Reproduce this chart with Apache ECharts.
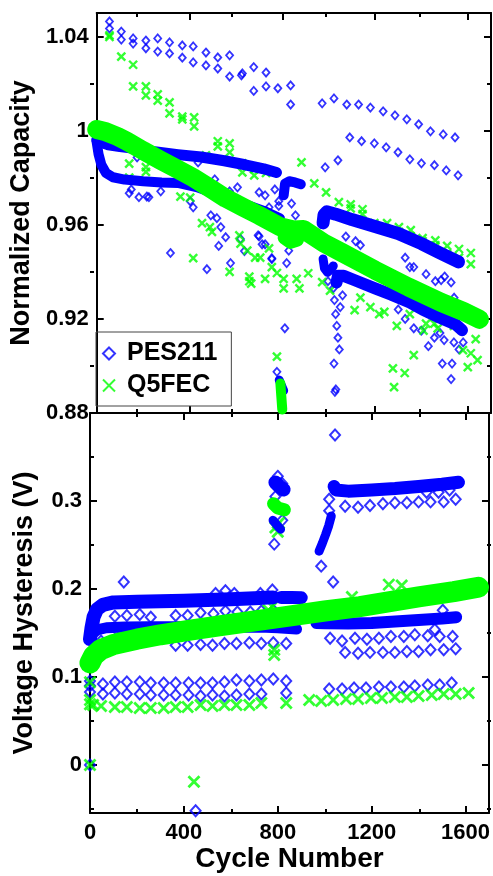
<!DOCTYPE html>
<html>
<head>
<meta charset="utf-8">
<script src="https://cdn.jsdelivr.net/npm/echarts@6/dist/echarts.min.js"></script>
<style>
  html, body { margin: 0; padding: 0; background: #fff; }
  #chart { width: 493px; height: 876px; }
</style>
</head>
<body>
<div id="chart"></div>
<script>
// ---- axis ticks ----
const cycleTicks = [0, 400, 800, 1200, 1600];
const cycleMinor = [200, 600, 1000, 1400];
const capTicks = [0.88, 0.92, 0.96, 1, 1.04];
const capMinor = [0.9, 0.94, 0.98, 1.02];
const hysTicks = [0, 0.1, 0.2, 0.3];
const hysMinor = [-0.05, 0.05, 0.15, 0.25, 0.35];

// ---- top panel: normalized capacity, [cycle, value] ----
// PES211 dense bands
const pesCapUpper = [[0,0.996],[15,0.9952],[50,0.994],[100,0.9932],[160,0.9925],[250,0.991],[350,0.9898],[450,0.9888],[550,0.9872],[640,0.9855],[720,0.9838],[775,0.9822]];
const pesCapLower = [[0,0.995],[8,0.99],[20,0.9855],[40,0.982],[70,0.9802],[120,0.9792],[200,0.9785],[280,0.978],[350,0.9778],[430,0.976],[510,0.9733],[590,0.9705],[660,0.968],[730,0.9655],[790,0.9628]];
const pesCapBump = [[806,0.9725],[812,0.9775],[830,0.9785],[855,0.978],[880,0.9772]];
const pesCapMid = [[815,0.9585],[850,0.9565],[895,0.9555]];
const pesCapDip = [[787,0.894],[797,0.8915],[806,0.8895]];
const pesCapBlob = [[976,0.9455],[982,0.9415],[995,0.9398],[1012,0.9412],[1020,0.9425]];
const pesCapUpper2 = [[976,0.9608],[980,0.9642],[992,0.9655],[1030,0.9645],[1100,0.9622],[1200,0.9593],[1300,0.9563],[1400,0.952],[1480,0.948],[1560,0.9442]];
const pesCapLower2 = [[1034,0.9355],[1040,0.9383],[1065,0.9383],[1110,0.9365],[1200,0.933],[1270,0.9303],[1350,0.927],[1405,0.924],[1480,0.9205],[1550,0.9175],[1575,0.9152]];
// PES211 single points
const pesCapPoints = [
  [55,1.0464],[55,1.0434],[106,1.0421],[157,1.0392],[212,1.0383],[263,1.0392],[314,1.0375],[369,1.0362],[416,1.0358],[471,1.0332],[522,1.0311],[573,1.032],[628,1.0243],[677,1.027],[730,1.0247],
  [106,1.0387],[157,1.037],[212,1.035],[263,1.0336],[314,1.0328],[369,1.031],[416,1.029],[471,1.0277],[522,1.0264],[573,1.023],[624,1.0235],[677,1.0169],[730,1.0188],[781,1.018],[836,1.0192],[836,1.0111],
  [972,1.0116],[1023,1.0137],[1078,1.0111],[1129,1.0111],[1180,1.0098],[1235,1.0082],[1286,1.0065],[1337,1.0048],[1388,1.0027],[1439,0.9997],[1494,0.9984],[1545,0.9971],
  [985,0.9844],[1040,0.9874],[1091,0.9971],[1142,0.9955],[1197,0.9946],[1248,0.9929],[1299,0.9908],[1350,0.9878],[1400,0.9861],[1456,0.9853],[1507,0.9831],[1558,0.981],
  [140,0.9734],[182,0.9717],[216,0.972],[225,0.9717],[149,0.975],[276,0.9742],[318,0.948],[416,0.9674],[403,0.97],[492,0.964],[518,0.9628],[535,0.959],[509,0.9793],[556,0.9547],[526,0.951],[475,0.9411],[577,0.9437],[573,0.9742],[607,0.9759],[700,0.9738],[726,0.9725],[768,0.975],[785,0.97],[743,0.9674],[713,0.9517],[755,0.9458],[700,0.9551],[637,0.9488],[437,0.9865],[174,0.9886],[327,0.9882],[620,0.954],
  [696,0.9555],[726,0.9517],[755,0.9454],[785,0.968],[840,0.969],[857,0.964],[819,0.9437],[828,0.949],[989,0.9415],[997,0.936],[1074,0.955],[1116,0.953],[1137,0.9513],[1330,0.946],[1350,0.942],[1367,0.942],[1420,0.939],[1460,0.936],[1485,0.9365],[1500,0.938],[1528,0.9355],[1541,0.929],
  [1300,0.924],[1330,0.92],[1367,0.916],[1400,0.915],[1430,0.9084],[1456,0.912],[1480,0.914],[1490,0.901],[1498,0.911],[1528,0.8944],[1532,0.901],[1540,0.91],[1562,0.907],[1580,0.91],
  [1020,0.933],[1025,0.928],[1030,0.922],[1035,0.917],[1040,0.912],[1046,0.907],[1023,0.901],[1031,0.89],[1027,0.889],[1050,0.925],[1060,0.93],
  [811,0.916],[777,0.8975]
];
// Q5FEC dense bands
const q5CapBand = [[0,1.0005],[40,0.9995],[90,0.9975],[130,0.9955],[200,0.9915],[276,0.9874],[350,0.9835],[416,0.98],[490,0.9755],[556,0.9713],[630,0.9675],[700,0.964],[790,0.9592],[850,0.9578],[891,0.958],[980,0.9522],[1061,0.948],[1200,0.9407],[1345,0.9335],[1485,0.927],[1580,0.9232],[1650,0.9198]];
const q5CapBlob = [[808,0.9545],[835,0.9525],[865,0.9535]];
const q5CapDip = [[792,0.8925],[796,0.887],[800,0.8815]];
// Q5FEC single points
const q5CapPoints = [
  [55,1.0405],[55,1.0398],[106,1.0315],[157,1.028],[157,1.0188],[212,1.0188],[212,1.015],[263,1.0154],[263,1.0128],[314,1.012],[314,1.0073],[369,1.006],[369,1.0048],[420,1.0056],[420,1.0018],
  [522,0.9955],[522,0.9933],[573,0.9946],[573,0.9908],[471,0.9895],[628,0.9861],[628,0.9823],[679,0.9836],[679,0.981],[730,0.982],
  [140,0.986],[140,0.98],[212,0.9845],[212,0.9825],
  [883,0.9865],[938,0.9776],[989,0.9738],[1044,0.9696],[1095,0.9687],[1095,0.967],[1146,0.9666],[1146,0.9645],[1197,0.9607],[1252,0.9607],[1303,0.959],[1303,0.957],[1354,0.9577],[1354,0.9551],[1405,0.9543],[1405,0.953],[1460,0.9534],[1460,0.9513],[1511,0.951],[1511,0.9475],[1562,0.9497],[1562,0.946],[1613,0.948],[1613,0.9433],
  [454,0.9607],[488,0.959],[497,0.957],[361,0.972],[403,0.9715],[416,0.9458],[573,0.94],[615,0.9555],[620,0.952],[649,0.949],[683,0.946],[705,0.946],[658,0.938],[658,0.936],[726,0.937],[755,0.942],[777,0.9395],[806,0.937],[806,0.933],
  [666,0.935],[743,0.95],[862,0.937],[874,0.933],[912,0.9394],[972,0.9356],[1006,0.932],[1112,0.9237],[1137,0.929],[1180,0.925],[1218,0.922],[1240,0.923],[1294,0.917],[1277,0.899],[1282,0.891],[1328,0.897],[1350,0.922],[1367,0.9046],[1409,0.915],[1420,0.918],[1456,0.918],[1470,0.916],[1500,0.92],[1540,0.917],[1579,0.9067],[1613,0.9054],[1642,0.9025],[1600,0.8995],[1634,0.9114],[777,0.904]
];

// ---- bottom panel: voltage hysteresis (V), [cycle, value] ----
const pesHysUpper = [[0,0.143],[6,0.155],[15,0.168],[30,0.177],[55,0.182],[100,0.1848],[200,0.1855],[300,0.186],[400,0.1868],[500,0.1875],[600,0.1885],[700,0.1895],[780,0.1905]];
const pesHysUpperB = [[815,0.1905],[860,0.1905],[900,0.19]];
const pesHysLower = [[0,0.143],[10,0.149],[30,0.1535],[70,0.156],[150,0.1568],[250,0.157],[350,0.157],[450,0.157],[550,0.1565],[650,0.1565],[750,0.1565],[800,0.156],[880,0.1545]];
const pesHysBlobHi = [[790,0.321],[805,0.317],[825,0.313]];
const pesHysBlobLo = [[780,0.278],[795,0.273],[812,0.268]];
const pesHysRise = [[976,0.243],[990,0.252],[1004,0.262],[1017,0.272],[1028,0.283]];
const pesHysUpper2 = [[1040,0.3165],[1048,0.3125],[1100,0.3112],[1200,0.3125],[1300,0.3142],[1400,0.3165],[1500,0.319],[1570,0.3213]];
const pesHysLower2 = [[965,0.1615],[1000,0.161],[1100,0.1607],[1200,0.1615],[1300,0.163],[1400,0.1647],[1500,0.1665],[1560,0.168]];
const pesHysPoints = [
  [0,0],[0,0.083],[0,0.09],[0,0.0955],
  [55,0.0921],[106,0.0944],[157,0.0944],[212,0.0944],[259,0.0933],[314,0.0933],[365,0.0933],[420,0.0933],[471,0.0933],[522,0.0933],[573,0.0944],[624,0.0967],[679,0.0955],[730,0.0967],[781,0.0978],[836,0.0955],
  [55,0.0807],[106,0.0819],[157,0.0807],[212,0.0807],[259,0.0796],[314,0.0796],[365,0.0796],[420,0.0796],[471,0.0785],[522,0.0796],[573,0.0785],[624,0.0796],[679,0.0807],[730,0.0807],[836,0.0819],
  [106,0.169],[157,0.17],[212,0.171],[259,0.168],[365,0.17],[416,0.17],[471,0.173],[526,0.172],[577,0.175],[628,0.174],[683,0.174],[730,0.175],[781,0.176],[836,0.172],
  [47,0.141],[106,0.143],[157,0.142],[212,0.141],[365,0.136],[416,0.136],[471,0.137],[522,0.136],[573,0.138],[624,0.138],[679,0.139],[730,0.138],[781,0.139],[836,0.138],
  [144,0.208],[535,0.195],[577,0.198],[615,0.195],[726,0.195],[777,0.199],
  [785,0.251],[819,0.32],[819,0.278],[790,0.305],[800,0.328],
  [1044,0.375],[1019,0.302],[1019,0.289],[985,0.226],[1036,0.208],
  [1087,0.294],[1142,0.293],[1193,0.295],[1248,0.297],[1299,0.298],[1350,0.298],[1400,0.299],[1451,0.299],[1507,0.299],[1558,0.302],[1434,0.31],[1485,0.31],[1532,0.3125],
  [1023,0.144],[1074,0.141],[1129,0.144],[1180,0.143],[1231,0.144],[1282,0.146],[1337,0.146],[1384,0.148],[1439,0.147],[1490,0.146],[1545,0.146],[1469,0.154],[1503,0.176],
  [1087,0.128],[1142,0.127],[1193,0.128],[1248,0.128],[1299,0.128],[1350,0.129],[1400,0.129],[1451,0.131],[1507,0.131],[1558,0.132],
  [1019,0.0864],[1074,0.0864],[1125,0.0876],[1176,0.0876],[1231,0.0887],[1282,0.0887],[1337,0.0887],[1384,0.0899],[1439,0.091],[1490,0.091],[1541,0.0932],
  [450,-0.052]
];
const q5HysBand = [[0,0.116],[15,0.124],[45,0.131],[100,0.137],[200,0.143],[300,0.148],[420,0.153],[550,0.158],[680,0.163],[840,0.169],[1000,0.175],[1150,0.18],[1265,0.185],[1400,0.191],[1550,0.197],[1655,0.202]];
const q5HysBlob = [[782,0.297],[800,0.292],[828,0.29]];
const q5HysPoints = [
  [0,0],[0,0.094],[0,0.074],[0,0.069],
  [13,0.0683],[47,0.0671],[106,0.066],[157,0.066],[212,0.0648],[259,0.0648],[314,0.0648],[365,0.066],[416,0.066],[471,0.0683],[522,0.0671],[573,0.0683],[624,0.0683],[679,0.0683],[730,0.0705],[836,0.0705],
  [934,0.0739],[985,0.0728],[1036,0.0739],[1091,0.075],[1142,0.075],[1197,0.0762],[1244,0.0762],[1299,0.0773],[1350,0.0773],[1400,0.0785],[1456,0.0796],[1507,0.0807],[1558,0.0807],[1613,0.0819],
  [443,-0.019],[132,0.153],[785,0.131],[785,0.125],[777,0.18],[760,0.176],[1116,0.191],[1273,0.205],[1328,0.204],[790,0.27],[805,0.275],[800,0.265]
];

const FONT = "'Liberation Sans', Arial, Helvetica, sans-serif";
const BLUE = '#0000ff';
const GREEN = '#00ff00';
const diamond = 'path://M5,0L10,5L5,10L0,5Z';
const cross = 'path://M0,0L10,10M10,0L0,10';

const labelStyle = { color: '#000', fontSize: 22, fontWeight: 'bold', fontFamily: FONT };
const nameStyle = { color: '#000', fontSize: 27, fontWeight: 'bold', fontFamily: FONT };
const lineStyle = { color: '#000', width: 2 };

const topRect = { left: 90, top: 13, width: 401, height: 400 };
const botRect = { left: 90, top: 413, width: 401, height: 400 };

// grids 0/2 hold data and major ticks, grids 1/3 only minor ticks
function xPair(g, ticks, len, withLabels) {
    const common = {
        type: 'value', gridIndex: g, min: 0, max: 1700,
        splitLine: { show: false },
        axisLine: { show: len > 5, onZero: false, lineStyle },
        axisTick: { inside: true, length: len, customValues: ticks, lineStyle },
        axisLabel: { show: false }
    };
    const bottom = { ...common, position: 'bottom' };
    if (withLabels) {
        bottom.axisLabel = { show: true, customValues: ticks, margin: 9, formatter: v => String(v), ...labelStyle };
        bottom.name = 'Cycle Number';
        bottom.nameLocation = 'middle';
        bottom.nameGap = 32;
        bottom.nameTextStyle = { ...nameStyle, fontSize: 28 };
    }
    return [bottom, { ...common, position: 'top' }];
}

function yPair(g, min, max, ticks, len, name) {
    const common = {
        type: 'value', gridIndex: g, min, max,
        splitLine: { show: false },
        axisLine: { show: len > 5, onZero: false, lineStyle },
        axisTick: { inside: true, length: len, customValues: ticks, lineStyle },
        axisLabel: { show: false }
    };
    const left = { ...common, position: 'left' };
    if (name) {
        left.axisLabel = { show: true, customValues: ticks, margin: 8, formatter: v => String(v), ...labelStyle };
        left.name = name;
        left.nameLocation = 'middle';
        left.nameGap = 52;
        left.nameTextStyle = nameStyle;
    }
    return [left, { ...common, position: 'right' }];
}

const series = [];
function band(g, data, color, width) {
    series.push({
        type: 'line', xAxisIndex: g * 2, yAxisIndex: g * 2, data,
        symbol: 'none', silent: true, emphasis: { disabled: true },
        lineStyle: { color, width, cap: 'round', join: 'round' }
    });
}
function points(g, name, data, symbol, size, color, bw) {
    series.push({
        type: 'scatter', name, xAxisIndex: g * 2, yAxisIndex: g * 2, data,
        symbol, symbolSize: size, silent: true,
        itemStyle: { color: 'rgba(0,0,0,0)', borderColor: color, borderWidth: bw }
    });
}

// top panel
band(0, pesCapUpper, BLUE, 11);
band(0, pesCapLower, BLUE, 10);
band(0, pesCapBump, BLUE, 10);
band(0, pesCapMid, BLUE, 11);
band(0, pesCapDip, BLUE, 9);
band(0, pesCapBlob, BLUE, 9);
band(0, pesCapUpper2, BLUE, 13);
band(0, pesCapLower2, BLUE, 12);
points(0, 'PES211', pesCapPoints, diamond, [7, 8], BLUE, 1.8);
band(0, q5CapBand, GREEN, 19);
band(0, q5CapBlob, GREEN, 13);
band(0, q5CapDip, GREEN, 10);
points(0, 'Q5FEC', q5CapPoints, cross, 8, GREEN, 2.4);

// bottom panel
band(2, pesHysUpper, BLUE, 14);
band(2, pesHysUpperB, BLUE, 13);
band(2, pesHysLower, BLUE, 11);
band(2, pesHysBlobHi, BLUE, 14);
band(2, pesHysBlobLo, BLUE, 9);
band(2, pesHysRise, BLUE, 9);
band(2, pesHysUpper2, BLUE, 13);
band(2, pesHysLower2, BLUE, 12);
points(2, 'PES211', pesHysPoints, diamond, [10, 11], BLUE, 2);
band(2, q5HysBand, GREEN, 21);
band(2, q5HysBlob, GREEN, 13);
points(2, 'Q5FEC', q5HysPoints, cross, 11, GREEN, 2.8);

const chart = echarts.init(document.getElementById('chart'));
chart.setOption({
    animation: false,
    backgroundColor: '#fff',
    grid: [topRect, topRect, botRect, botRect],
    xAxis: [
        ...xPair(0, cycleTicks, 7, false),
        ...xPair(1, cycleMinor, 4, false),
        ...xPair(2, cycleTicks, 7, true),
        ...xPair(3, cycleMinor, 4, false)
    ],
    yAxis: [
        ...yPair(0, 0.88, 1.05, capTicks, 7, 'Normalized Capacity'),
        ...yPair(1, 0.88, 1.05, capMinor, 4, null),
        ...yPair(2, -0.0545, 0.4, hysTicks, 7, 'Voltage Hysteresis (V)'),
        ...yPair(3, -0.0545, 0.4, hysMinor, 4, null)
    ],
    legend: {
        orient: 'vertical', left: 96, top: 332,
        data: ['PES211', 'Q5FEC'],
        itemWidth: 26, itemHeight: 12, itemGap: 7,
        padding: [9, 14, 8, 6],
        borderColor: '#444', borderWidth: 1,
        selectedMode: false,
        textStyle: { color: '#000', fontSize: 25, fontWeight: 'bold', fontFamily: FONT }
    },
    series
});
</script>
</body>
</html>
